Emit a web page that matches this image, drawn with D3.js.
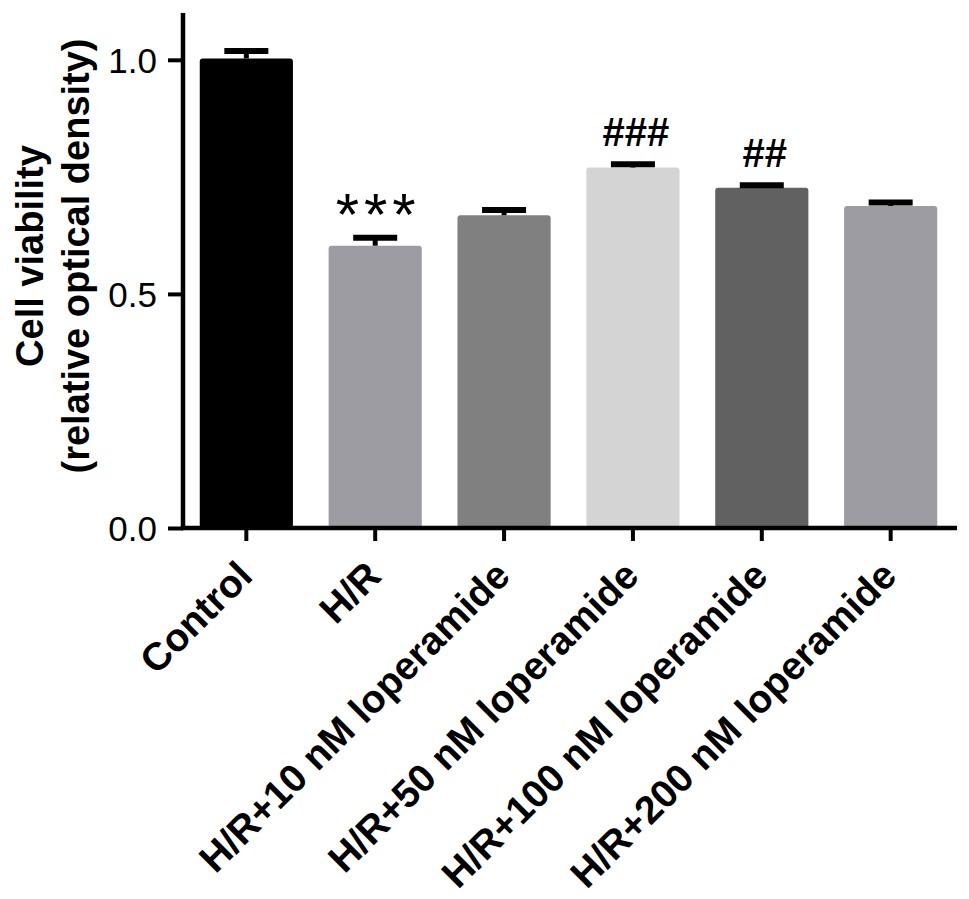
<!DOCTYPE html>
<html>
<head>
<meta charset="utf-8">
<script src="https://cdn.jsdelivr.net/npm/d3@7"></script>
<style>
  body { margin: 0; background: #fff; }
  svg text { font-family: "Liberation Sans", Arial, sans-serif; fill: #000; }
</style>
</head>
<body>
<svg id="chart"></svg>
<script>
const groups = ["Control", "H/R", "H/R+10 nM loperamide", "H/R+50 nM loperamide",
                "H/R+100 nM loperamide", "H/R+200 nM loperamide"];
const means = [1.003, 0.603, 0.668, 0.770, 0.727, 0.688];
const sems = [0.016, 0.017, 0.011, 0.007, 0.005, 0.007];
const marks = ["", "***", "", "###", "##", ""];
const barColors = ["#000000", "#9d9ca3", "#808080", "#d4d4d4", "#616161", "#9d9ca3"];
const yTicks = [0, 0.5, 1.0];

const width = 969;
const height = 899;

const svg = d3.select("#chart")
              .attr("width", width)
              .attr("height", height);

const x0 = 183, x1 = 954, yTop = 13, yBottom = 528;

const x = d3.scaleBand()
            .domain(groups)
            .range([x0, x1])
            .paddingInner(0.277)
            .paddingOuter(0.13);

const y = d3.scaleLinear()
            .domain([0, 1.1])
            .range([yBottom, yTop]);

// bars
svg.append("g")
   .selectAll("rect")
   .data(groups)
   .enter()
   .append("rect")
   .attr("x", d => x(d))
   .attr("y", (d, i) => y(means[i]))
   .attr("width", x.bandwidth())
   .attr("height", (d, i) => y(0) - y(means[i]))
   .attr("rx", 3)
   .style("fill", (d, i) => barColors[i]);

// error bars (upper only)
const err = svg.append("g");
groups.forEach(function(g, i) {
  const cx = x(g) + x.bandwidth() / 2;
  err.append("line")
     .attr("x1", cx).attr("x2", cx)
     .attr("y1", y(means[i])).attr("y2", y(means[i] + sems[i]))
     .style("stroke", "#000").style("stroke-width", 5);
  err.append("line")
     .attr("x1", cx - 22).attr("x2", cx + 22)
     .attr("y1", y(means[i] + sems[i])).attr("y2", y(means[i] + sems[i]))
     .style("stroke", "#000").style("stroke-width", 6);
});

// significance marks
svg.append("g")
   .selectAll("text")
   .data(groups)
   .enter()
   .append("text")
   .attr("x", d => x(d) + x.bandwidth() / 2 + 3)
   .attr("y", (d, i) => marks[i].startsWith("*") ? y(means[i] + sems[i]) - 3 : y(means[i] + sems[i]) - 18)
   .attr("text-anchor", "middle")
   .style("font-size", (d, i) => marks[i].startsWith("*") ? "60px" : "40px")
   .style("font-weight", (d, i) => marks[i].startsWith("*") ? "normal" : "bold")
   .style("letter-spacing", (d, i) => marks[i].startsWith("*") ? "5px" : "0px")
   .text((d, i) => marks[i]);

// y axis
const yAxis = svg.append("g")
                 .attr("transform", "translate(" + x0 + ",0)")
                 .call(d3.axisLeft(y)
                         .tickValues(yTicks)
                         .tickFormat(d3.format(".1f"))
                         .tickSize(15)
                         .tickSizeOuter(0)
                         .tickPadding(11));
yAxis.select(".domain").remove();
yAxis.selectAll(".tick line").style("stroke", "#000").style("stroke-width", 4);
yAxis.selectAll(".tick text")
     .style("font-size", "35px")
     .attr("dy", "0.36em");

// x axis
const xAxis = svg.append("g")
                 .attr("transform", "translate(0," + yBottom + ")")
                 .call(d3.axisBottom(x).tickSize(13).tickSizeOuter(0));
xAxis.select(".domain").remove();
xAxis.selectAll(".tick line").style("stroke", "#000").style("stroke-width", 4);
xAxis.selectAll(".tick text")
     .attr("text-anchor", "end")
     .attr("x", 0)
     .attr("y", 0)
     .attr("dy", 0)
     .attr("transform", "translate(8,50) rotate(-45)")
     .style("font-size", "39px")
     .style("font-weight", "bold");

// axis lines
svg.append("line")
   .attr("x1", x0).attr("x2", x0)
   .attr("y1", yTop).attr("y2", yBottom + 2)
   .style("stroke", "#000").style("stroke-width", 4.5);
svg.append("line")
   .attr("x1", x0 - 2).attr("x2", 957)
   .attr("y1", yBottom).attr("y2", yBottom)
   .style("stroke", "#000").style("stroke-width", 4.5);

// y label
const yLabel = svg.append("text")
                  .attr("transform", "translate(0,256) rotate(-90)")
                  .attr("text-anchor", "middle")
                  .style("font-size", "38px")
                  .style("font-weight", "bold");
yLabel.append("tspan").attr("x", 0).attr("y", 43).text("Cell viability");
yLabel.append("tspan").attr("x", 0).attr("y", 89).text("(relative optical density)");
</script>
</body>
</html>
